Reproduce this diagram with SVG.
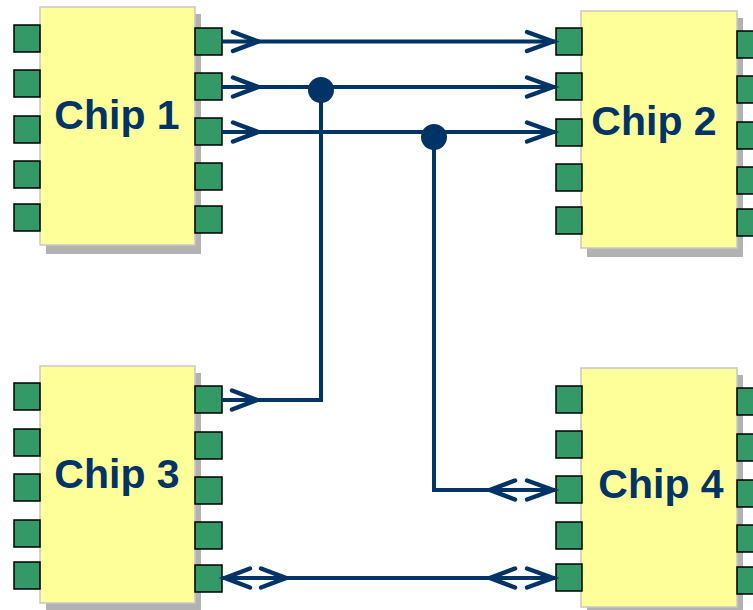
<svg xmlns="http://www.w3.org/2000/svg" width="753" height="610" viewBox="0 0 753 610">
<style>
.shadow{fill:#b2b2b2}
.body{fill:#ffff99;stroke:#c8c8c8;stroke-width:1.5}
.pin{fill:#339966;stroke:#000;stroke-width:1.5}
.lbl{font-family:"Liberation Sans",Arial,sans-serif;font-weight:bold;font-size:41px;fill:#003366;text-anchor:middle}
.wire{fill:none;stroke:#003366;stroke-width:4;stroke-linejoin:miter}
.chev{fill:none;stroke:#003366;stroke-width:4.5;stroke-linecap:round;stroke-linejoin:miter}
.dot{fill:#003366}
</style>
<rect width="753" height="610" fill="#fff"/>
<g id="chip1">
<rect class="shadow" x="46" y="14" width="155" height="240"/>
<rect class="body" x="40" y="7" width="155" height="238"/>
<rect class="pin" x="14" y="25" width="26" height="27"/>
<rect class="pin" x="14" y="70" width="26" height="27"/>
<rect class="pin" x="14" y="116" width="26" height="27"/>
<rect class="pin" x="14" y="161" width="26" height="27"/>
<rect class="pin" x="14" y="204" width="26" height="27"/>
<rect class="pin" x="195" y="28" width="27" height="27"/>
<rect class="pin" x="195" y="73" width="27" height="27"/>
<rect class="pin" x="195" y="118" width="27" height="27"/>
<rect class="pin" x="195" y="163" width="27" height="27"/>
<rect class="pin" x="195" y="206" width="27" height="27"/>
<text class="lbl" x="117" y="129">Chip 1</text>
</g>
<g id="chip2">
<rect class="shadow" x="587" y="18" width="156" height="239"/>
<rect class="body" x="581" y="11" width="156" height="237"/>
<rect class="pin" x="556" y="28" width="26" height="27"/>
<rect class="pin" x="556" y="73" width="26" height="27"/>
<rect class="pin" x="556" y="119" width="26" height="27"/>
<rect class="pin" x="556" y="164" width="26" height="27"/>
<rect class="pin" x="556" y="207" width="26" height="27"/>
<rect class="pin" x="737" y="31" width="27" height="27"/>
<rect class="pin" x="737" y="76" width="27" height="27"/>
<rect class="pin" x="737" y="122" width="27" height="27"/>
<rect class="pin" x="737" y="167" width="27" height="27"/>
<rect class="pin" x="737" y="209" width="27" height="27"/>
<text class="lbl" x="654" y="135">Chip 2</text>
</g>
<g id="chip3">
<rect class="shadow" x="46" y="373" width="155" height="240"/>
<rect class="body" x="40" y="366" width="155" height="237"/>
<rect class="pin" x="14" y="383" width="26" height="27"/>
<rect class="pin" x="14" y="429" width="26" height="27"/>
<rect class="pin" x="14" y="474" width="26" height="27"/>
<rect class="pin" x="14" y="520" width="26" height="27"/>
<rect class="pin" x="14" y="562" width="26" height="27"/>
<rect class="pin" x="195" y="386" width="27" height="27"/>
<rect class="pin" x="195" y="432" width="27" height="27"/>
<rect class="pin" x="195" y="477" width="27" height="27"/>
<rect class="pin" x="195" y="522" width="27" height="27"/>
<rect class="pin" x="195" y="565" width="27" height="27"/>
<text class="lbl" x="117" y="488">Chip 3</text>
</g>
<g id="chip4">
<rect class="shadow" x="587" y="375" width="156" height="240"/>
<rect class="body" x="581" y="368" width="156" height="239"/>
<rect class="pin" x="556" y="386" width="26" height="27"/>
<rect class="pin" x="556" y="431" width="26" height="27"/>
<rect class="pin" x="556" y="476" width="26" height="27"/>
<rect class="pin" x="556" y="522" width="26" height="27"/>
<rect class="pin" x="556" y="564" width="26" height="27"/>
<rect class="pin" x="737" y="388" width="27" height="27"/>
<rect class="pin" x="737" y="434" width="27" height="27"/>
<rect class="pin" x="737" y="480" width="27" height="27"/>
<rect class="pin" x="737" y="525" width="27" height="27"/>
<rect class="pin" x="737" y="567" width="27" height="27"/>
<text class="lbl" x="661" y="498">Chip 4</text>
</g>
<g id="connectors">
<path class="wire" d="M222,41.5 H555"/>
<path class="wire" d="M222,87 H555"/>
<path class="wire" d="M222,132 H555"/>
<path class="wire" d="M321,90 V400 H222"/>
<path class="wire" d="M434,137 V490 H555"/>
<path class="wire" d="M222,578 H555"/>
<circle class="dot" cx="321" cy="90" r="13"/>
<circle class="dot" cx="434" cy="137" r="13"/>
<path class="chev" d="M233,32 L258,41.5 L233,51"/>
<path class="chev" d="M233,77.5 L258,87 L233,96.5"/>
<path class="chev" d="M233,122.5 L258,132 L233,141.5"/>
<path class="chev" d="M527,32 L553,41.5 L527,51"/>
<path class="chev" d="M527,77.5 L553,87 L527,96.5"/>
<path class="chev" d="M527,122.5 L553,132 L527,141.5"/>
<path class="chev" d="M232,390.5 L257,400 L232,409.5"/>
<path class="chev" d="M515,480.5 L490,490 L515,499.5"/>
<path class="chev" d="M527,480.5 L553,490 L527,499.5"/>
<path class="chev" d="M515,568.5 L490,578 L515,587.5"/>
<path class="chev" d="M527,568.5 L553,578 L527,587.5"/>
<path class="chev" d="M250,568.5 L225,578 L250,587.5"/>
<path class="chev" d="M261,568.5 L286,578 L261,587.5"/>
</g>
</svg>
